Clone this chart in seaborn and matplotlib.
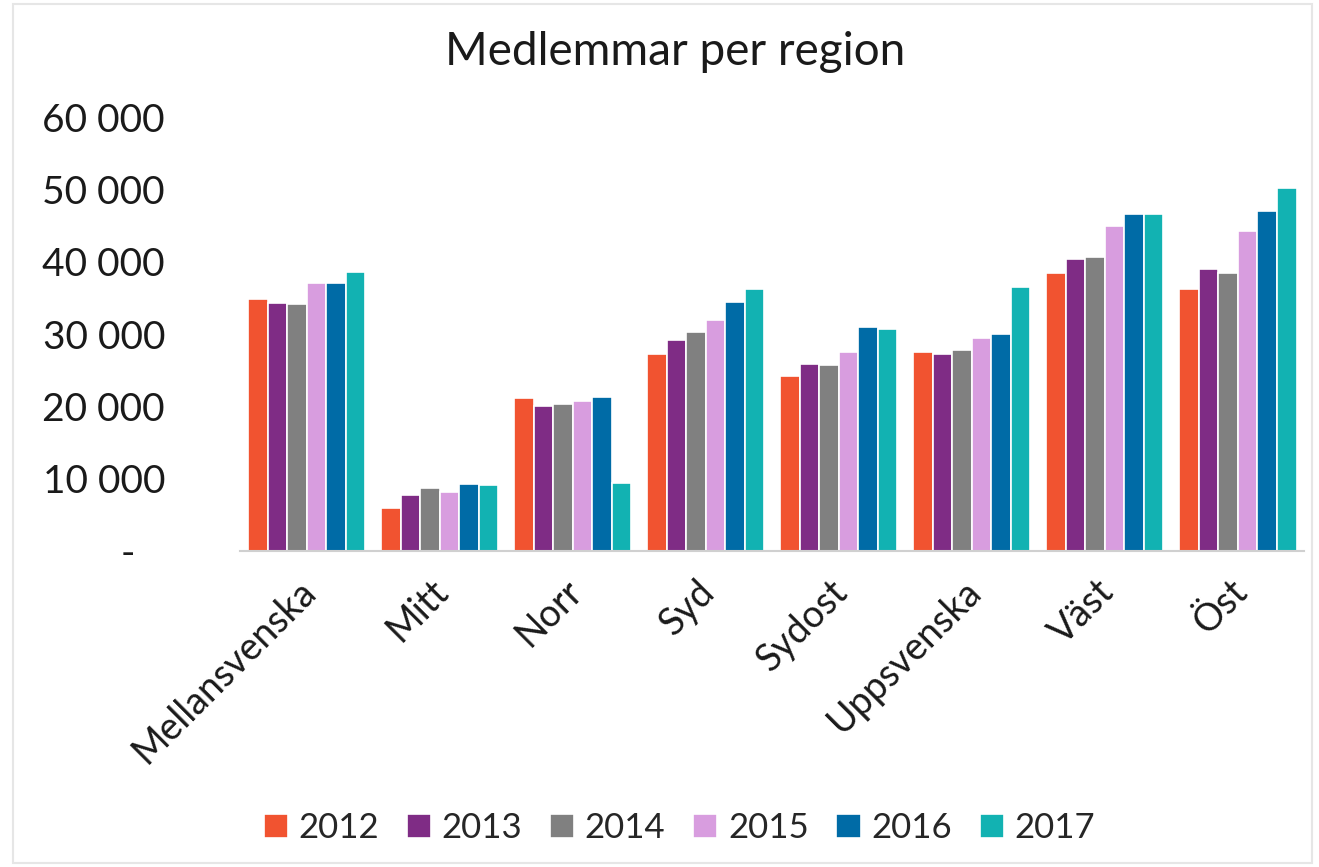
import matplotlib.pyplot as plt
import matplotlib.ticker as mticker
import pandas as pd
import seaborn as sns

regions = ['Mellansvenska', 'Mitt', 'Norr', 'Syd', 'Sydost', 'Uppsvenska', 'Väst', 'Öst']
years = ['2012', '2013', '2014', '2015', '2016', '2017']

v2012 = [34900, 6000, 21200, 27300, 24250, 27500, 38450, 36200]
v2013 = [34350, 7800, 20050, 29200, 25850, 27300, 40400, 38950]
v2014 = [34150, 8750, 20350, 30300, 25750, 27800, 40650, 38450]
v2015 = [37100, 8200, 20750, 31950, 27550, 29400, 44900, 44250]
v2016 = [37100, 9200, 21300, 34400, 31000, 30050, 46650, 47000]
v2017 = [38600, 9100, 9400, 36250, 30650, 36450, 46650, 50250]

colors = ['#F15330', '#7F2C85', '#808080', '#D89DDF', '#006BA6', '#12B2B2']

df = pd.DataFrame({'2012': v2012, '2013': v2013, '2014': v2014,
                   '2015': v2015, '2016': v2016, '2017': v2017}, index=regions)
df = df.reset_index().melt(id_vars='index', var_name='year', value_name='value')
df = df.rename(columns={'index': 'region'})

sns.set_style('white')
plt.rcParams['font.family'] = ['Lato', 'DejaVu Sans']

fig = plt.figure(figsize=(13.19, 8.67), dpi=100)
ax = fig.add_axes([0.182, 0.3645, 0.807, 0.5005])

sns.barplot(data=df, x='region', y='value', hue='year', hue_order=years,
            palette=colors, width=0.88, edgecolor='white', linewidth=1.2,
            saturation=1, ax=ax)

ax.set_ylim(0, 60000)
ax.set_xlim(-0.5, len(regions) - 0.5)
ax.set_yticks(range(0, 60001, 10000))
# accounting style: zero shown as a dash
ax.yaxis.set_major_formatter(mticker.FuncFormatter(
    lambda v, p: '-   ' if v == 0 else f'{int(v):,}'.replace(',', ' ')))
ax.tick_params(axis='y', labelsize=28, length=0, pad=54, labelcolor='#1a1a1a')

# labels nudged a little left of the group centre, like the original
ax.set_xticks([i - 0.07 for i in range(len(regions))])
ax.set_xticklabels(regions, rotation=45, ha='right', rotation_mode='anchor',
                   fontsize=27, color='#1a1a1a')
ax.tick_params(axis='x', which='major', length=0, pad=16)
ax.set_xticks([i - 0.5 for i in range(len(regions) + 1)], minor=True)
ax.tick_params(axis='x', which='minor', length=11, width=1.5, color='#d0d0d0')

ax.set_xlabel('')
ax.set_ylabel('')
for s in ['top', 'right', 'left']:
    ax.spines[s].set_visible(False)
ax.spines['bottom'].set_color('#d0d0d0')
ax.spines['bottom'].set_linewidth(1.5)

fig.text(0.512, 0.94, 'Medlemmar per region', ha='center', va='center',
         fontsize=33, color='#1a1a1a')

handles, labels = ax.get_legend_handles_labels()
ax.legend_.remove()
fig.legend(handles, labels, loc='center', bbox_to_anchor=(0.515, 0.045),
           ncol=6, frameon=False, fontsize=25, handlelength=0.7,
           handleheight=0.7, handletextpad=0.3, columnspacing=0.8)

fig.patches.append(plt.Rectangle((0.01, 0.005), 0.985, 0.99, transform=fig.transFigure,
                                 fill=False, edgecolor='#e6e6e6', linewidth=1.5))

fig.savefig('out.png', dpi=100)
